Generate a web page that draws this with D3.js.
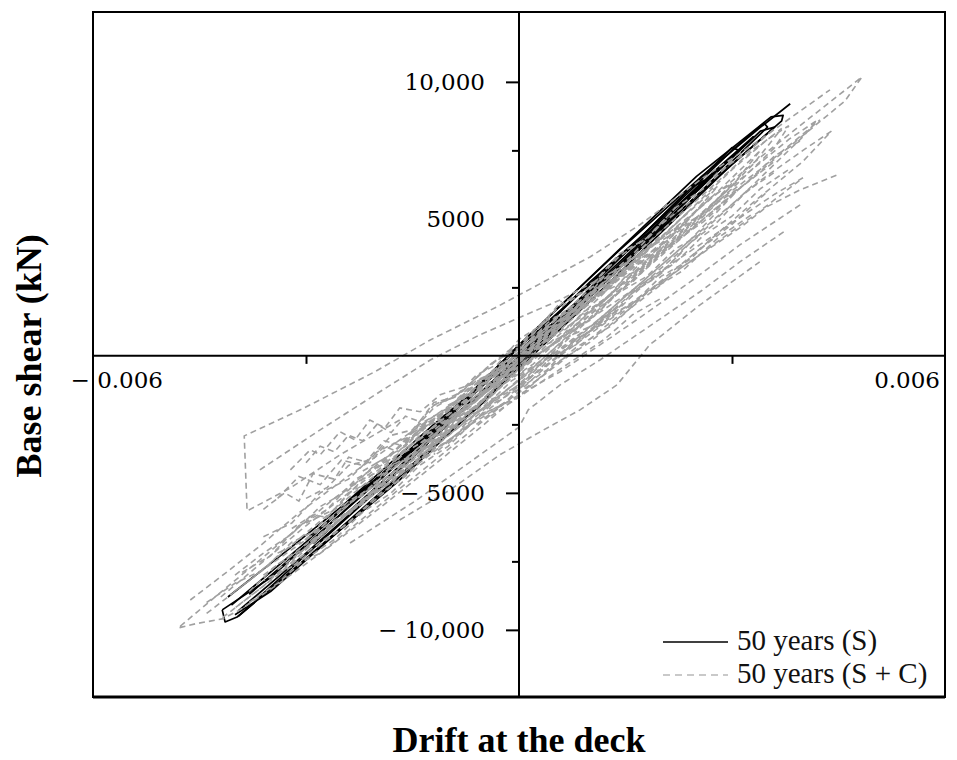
<!DOCTYPE html>
<html>
<head>
<meta charset="UTF-8">
<style>
  body { margin: 0; background: #fff; }
  svg { display: block; }
</style>
</head>
<body>
<svg></svg>
<script src="https://d3js.org/d3.v7.min.js"></script>
<script>

let width = 957,
    height = 760;

// axis ticks and labels
const yTicks = [-10000, -5000, 5000, 10000];
const yTickLabels = ["\u2212 10,000", "\u2212 5000", "5000", "10,000"];
const yMinorTicks = [-7500, -2500, 2500, 7500];
const xTicks = [-0.003, 0.003];
const xEndTicks = [-0.006, 0.006];
const xTickLabels = ["\u2212 0.006", "0.006"];
const legendLabels = ["50 years (S)", "50 years (S + C)"];

// 50 years (S) : [drift, base shear kN]
const s_1 = [[-0.00410,-8800],[-0.00322,-7010],[-0.00224,-4960],[-0.00139,-3180],[-0.00070,-1420],[0,400],[0.00058,1820],[0.00142,3870],[0.00255,6500],[0.00339,8320],[0.00382,9200]];
const s_2 = [[-0.00418,-9270],[-0.00414,-9710],[-0.00397,-9530],[-0.00280,-6970],[-0.00168,-4530],[-0.00069,-2120],[0,-290],[0.00142,3290],[0.00255,5950],[0.00370,8580],[0.00372,8780],[0.00355,8720],[0.00250,6550],[0.00140,3850],[0,380],[-0.00070,-1400],[-0.00150,-3350],[-0.00250,-5750],[-0.00350,-8100],[-0.00418,-9270]];
const s_3 = [[-0.00405,-9100],[-0.00300,-6800],[-0.00200,-4450],[-0.00100,-2200],[0,150],[0.00100,2700],[0.00200,5000],[0.00300,7500],[0.00345,8500],[0.00350,8350],[0.00300,7100],[0.00200,4600],[0.00100,2200],[0,-100],[-0.00100,-2500],[-0.00200,-4900],[-0.00300,-7200],[-0.00395,-9300]];
const s_4 = [[-0.00300,-6700],[-0.00150,-3400],[0,300],[0.00150,3800],[0.00300,7600],[0.00310,7500],[0.00150,3500],[0,-50],[-0.00150,-3600],[-0.00290,-6850]];
const s_5 = [[-0.00395,-9500],[-0.00300,-7400],[-0.00200,-5100],[-0.00100,-2800],[0,-450],[0.00100,2000],[0.00200,4500],[0.00300,7000],[0.00360,8350],[0.00340,8200],[0.00250,6000],[0.00150,3400],[0.00050,900],[-0.00050,-1700],[-0.00150,-4000],[-0.00250,-6300],[-0.00350,-8600],[-0.00400,-9450]];
const s_6 = [[-0.00380,-8700],[-0.00280,-6450],[-0.00180,-4150],[-0.00080,-1800],[0,150],[0.00080,2150],[0.00180,4450],[0.00280,6850],[0.00330,8000],[0.00320,7750],[0.00220,5350],[0.00120,2900],[0.00020,500],[-0.00080,-2000],[-0.00180,-4450],[-0.00280,-6800],[-0.00370,-8900]];
const s_7 = [[-0.00240,-5500],[-0.00120,-2800],[0,-200],[0.00120,3000],[0.00240,6100],[0.00260,6400],[0.00140,3300],[0,100],[-0.00120,-2500],[-0.00250,-5500]];

// 50 years (S + C) : [drift, base shear kN]
const g_1 = [[-0.00083,-1610],[0,-150],[0.00086,1390],[0.00170,3070],[0.00255,4890],[0.00325,6420],[0.00396,7960],[0.00459,9300],[0.00483,10180],[0.00424,8980],[0.00339,7230],[0.00255,5400],[0.00142,3070],[0.00058,1310],[0,220]];
const g_2 = [[0,-690],[0.00058,220],[0.00114,1130],[0.00184,2410],[0.00255,3690],[0.00311,4670],[0.00349,5440],[0.00396,6060],[0.00449,6610]];
const g_3 = [[-0.00238,-6830],[-0.00144,-5260],[-0.00051,-3540],[0,-2600],[0.00013,-1970],[0.00058,-1060],[0.00114,-150],[0.00170,840],[0.00255,2340],[0.00311,3430],[0.00377,4600]];
const g_4 = [[-0.00168,-5990],[-0.00097,-4890],[-0.00027,-3610],[0.00030,-2770],[0.00086,-1970],[0.00138,-1060],[0.00184,400],[0.00255,1860],[0.00339,3430]];
const g_5 = [[-0.00168,-2340],[-0.00252,-3610],[-0.00322,-4820],[-0.00383,-5660],[-0.00387,-2920],[-0.00308,-1970],[-0.00203,-580],[-0.00125,580],[-0.00031,1790],[0.00100,3610],[0.00170,4780],[0.00255,6420],[0.00339,7880],[0.00438,9710]];
const g_6 = [[0,-1420],[-0.00055,-2630],[-0.00125,-4090],[-0.00196,-5550],[-0.00266,-6940],[-0.00337,-8290],[-0.00393,-9270],[-0.00418,-9600],[-0.00456,-9780],[-0.00480,-9930],[-0.00453,-9340],[-0.00411,-8430],[-0.00365,-7450],[-0.00308,-6210],[-0.00238,-4750],[-0.00168,-3320],[-0.00097,-1970],[0,-370]];
const g_7 = [[-0.00463,-8910],[-0.00411,-7880],[-0.00365,-6940],[-0.00308,-5690],[-0.00238,-4340],[-0.00168,-3070],[-0.00097,-1790],[-0.00027,-580],[0.00030,580],[0.00114,2230],[0.00227,4600],[0.00339,6790],[0.00424,8610]];
const g_8 = [[-0.00322,-4160],[-0.00294,-3430],[-0.00280,-3610],[-0.00252,-2770],[-0.00231,-3070],[-0.00210,-2340],[-0.00189,-2630],[-0.00168,-1900],[-0.00139,-2040],[-0.00111,-1420],[-0.00069,-1060],[0,-150]];
const g_9 = [[-0.00365,-4160],[-0.00280,-2700],[-0.00196,-1310],[-0.00125,-150],[-0.00055,770],[0,1390],[0.00058,2040],[0.00142,3210],[0.00227,4780]];
const g_10 = [[0.00396,5510],[0.00311,4050],[0.00241,2700],[0.00170,1390],[0.00114,400],[0.00058,-580],[0,-1420],[-0.00069,-2520],[-0.00139,-3800],[-0.00210,-5150],[-0.00280,-6350],[-0.00351,-7630],[-0.00407,-8720]];
const g_11 = [[-0.0034,-5200],[-0.0031,-4400],[-0.0028,-4700],[-0.0025,-3800],[-0.0022,-4000],[-0.0019,-3100],[-0.0016,-3300],[-0.0013,-2400],[-0.0010,-2500],[-0.0007,-1600],[-0.0004,-1200],[0,-300]];
const d_1 = [[-0.0030,-6700],[-0.0022,-5000],[-0.0012,-2900],[-0.0004,-1100],[0.0004,700],[0.0012,2400],[0.0020,4100],[0.0028,6000],[0.0034,7500],[0.0030,6200],[0.0022,4300],[0.0014,2500],[0.0006,700],[-0.0002,-1000],[-0.0010,-2700],[-0.0020,-4900],[-0.0030,-6900]];
const d_2 = [[-0.0036,-8000],[-0.0028,-6500],[-0.0018,-4600],[-0.0010,-2800],[-0.0002,-900],[0.0006,700],[0.0014,2300],[0.0022,4100],[0.0030,5900],[0.0036,7100],[0.0031,6100],[0.0024,4200],[0.0016,2400],[0.0008,600],[0,-1300],[-0.0008,-3000],[-0.0018,-5100],[-0.0028,-7200],[-0.0036,-8200]];
const d_3 = [[-0.0025,-5600],[-0.0018,-4300],[-0.0010,-2600],[-0.0002,-700],[0.0006,1100],[0.0014,2900],[0.0022,4800],[0.0028,6200],[0.0024,5000],[0.0016,3000],[0.0008,1000],[0,-900],[-0.0008,-2500],[-0.0016,-4200],[-0.0025,-5900]];
const d_4 = [[-0.0020,-4100],[-0.0012,-2700],[-0.0004,-1200],[0.0004,300],[0.0012,1700],[0.0020,3100],[0.0028,4500],[0.0036,5900],[0.0040,6500],[0.0034,5300],[0.0026,3800],[0.0018,2300],[0.0010,800],[0.0002,-700],[-0.0006,-2100],[-0.0014,-3500],[-0.0020,-4400]];
const d_5 = [[-0.0042,-8800],[-0.0036,-7500],[-0.0030,-6200],[-0.0024,-5000],[-0.0018,-3800],[-0.0012,-2600],[-0.0006,-1300],[0,100],[0.0006,1500],[0.0012,2900],[0.0008,1700],[0.0002,300],[-0.0004,-1200],[-0.0010,-2500],[-0.0016,-3900],[-0.0022,-5300],[-0.0028,-6600],[-0.0034,-8000],[-0.0040,-9200]];
const d_6 = [[-0.0032,-6300],[-0.0029,-5800],[-0.0027,-5900],[-0.0024,-5000],[-0.0021,-4600],[-0.0018,-4700],[-0.0015,-3700],[-0.0012,-3200],[-0.0009,-2400],[-0.0006,-1900],[-0.0003,-1000],[0,-600],[0.0003,300],[0.0006,700],[0.0009,1600],[0.0012,2000],[0.0015,2900],[0.0018,3300],[0.0021,4200]];
const d_7 = [[0,-500],[0.0008,1300],[0.0016,3300],[0.0024,5300],[0.0030,6800],[0.0035,7900],[0.0038,8400],[0.0036,7600],[0.0030,6100],[0.0022,4200],[0.0014,2300],[0.0006,400],[-0.0002,-1500]];
const d_8 = [[-0.0010,-2400],[-0.0004,-1000],[0.0002,400],[0.0010,2200],[0.0018,4100],[0.0026,5900],[0.0032,7300],[0.0037,8300],[0.0033,7000],[0.0026,5200],[0.0018,3300],[0.0010,1400],[0.0002,-400],[-0.0006,-2200],[-0.0012,-3600]];
const d_9 = [[0.0010,1600],[0.0020,3900],[0.0030,6200],[0.0038,7900],[0.0042,8600],[0.0040,8000],[0.0032,6000],[0.0024,4100],[0.0016,2300],[0.0008,500]];
const d_10 = [[-0.0012,-2900],[-0.0006,-1500],[0,-100],[0.0006,1300],[0.0012,2700],[0.0008,1600],[0.0002,100],[-0.0004,-1300],[-0.0010,-2800],[-0.0014,-3500]];
const d_11 = [[-0.0008,-1600],[-0.0002,-300],[0.0004,1000],[0.0010,2100],[0.0016,3400],[0.0012,2400],[0.0006,1000],[0,-400],[-0.0006,-1800],[-0.0009,-2400]];
const d_12 = [[-0.0044,-9400],[-0.0038,-8200],[-0.0032,-6900],[-0.0026,-5600],[-0.0020,-4300],[-0.0014,-3000],[-0.0008,-1700],[-0.0002,-400],[0.0004,900],[0,-200],[-0.0006,-1600],[-0.0012,-2900],[-0.0018,-4300],[-0.0024,-5700],[-0.0030,-7000],[-0.0036,-8400],[-0.0042,-9600]];
const d_13 = [[-0.0034,-7800],[-0.0028,-6600],[-0.0022,-5300],[-0.0016,-4000],[-0.0010,-2900],[-0.0004,-1700],[0.0002,-500],[0.0008,700],[0.0014,1800],[0.0010,900],[0.0004,-300],[-0.0002,-1500],[-0.0008,-2700],[-0.0014,-3900],[-0.0020,-5200],[-0.0026,-6500],[-0.0032,-7700]];
const d_14 = [[0.0004,-200],[0.0012,1500],[0.0020,3300],[0.0028,5100],[0.0034,6400],[0.0040,7500],[0.0044,8200],[0.0040,7100],[0.0033,5600],[0.0025,3800],[0.0017,2100],[0.0009,400],[0.0001,-1200]];
const d_15 = [[-0.0016,-3100],[-0.0010,-1900],[-0.0004,-600],[0.0002,700],[0.0008,1900],[0.0014,3100],[0.0020,4400],[0.0016,3300],[0.0010,2000],[0.0004,700],[-0.0002,-700],[-0.0008,-2000],[-0.0014,-3200]];
const e_1 = [[-0.0020,-4600],[-0.0016,-3500],[-0.0012,-2900],[-0.0008,-1800],[-0.0004,-1100],[0,-100],[0.0004,600],[0.0008,1700],[0.0012,2300],[0.0016,3400],[0.0020,4000]];
const e_2 = [[-0.0022,-4200],[-0.0018,-3600],[-0.0014,-2500],[-0.0010,-1900],[-0.0006,-900],[-0.0002,-400],[0.0002,600],[0.0006,1100],[0.0010,2100],[0.0014,2600],[0.0018,3600],[0.0022,4100]];
const e_3 = [[-0.0018,-4500],[-0.0014,-3700],[-0.0010,-2700],[-0.0006,-2000],[-0.0002,-1000],[0.0002,-300],[0.0006,700],[0.0010,1300],[0.0014,2300],[0.0018,2900],[0.0022,3900],[0.0026,4500]];
const e_4 = [[-0.0015,-2800],[-0.0011,-2200],[-0.0007,-1200],[-0.0003,-600],[0.0001,400],[0.0005,1000],[0.0009,2000],[0.0013,2600],[0.0017,3700]];
const e_5 = [[-0.0013,-3500],[-0.0009,-2500],[-0.0005,-1900],[-0.0001,-900],[0.0003,-300],[0.0007,700],[0.0011,1200],[0.0015,2200],[0.0019,2800],[0.0023,3800]];
const e_6 = [[-0.0026,-5200],[-0.0021,-4300],[-0.0016,-3100],[-0.0011,-2200],[-0.0006,-1000],[-0.0001,-100],[0.0004,1100],[0.0009,2000],[0.0014,3200],[0.0019,4100],[0.0024,5300]];
const e_7 = [[-0.0024,-5800],[-0.0019,-4500],[-0.0014,-3600],[-0.0009,-2300],[-0.0004,-1500],[0.0001,-200],[0.0006,600],[0.0011,1900],[0.0016,2700],[0.0021,4000],[0.0026,4900],[0.0031,6100]];
const e_8 = [[-0.0010,-1800],[-0.0006,-1300],[-0.0002,-200],[0.0002,300],[0.0006,1400],[0.0010,1900],[0.0014,3000],[0.0018,3500],[0.0022,4600],[0.0026,5200],[0.0030,6300]];
const e_9 = [[-0.0008,-2600],[-0.0004,-1600],[0,-1100],[0.0004,-100],[0.0008,400],[0.0012,1400],[0.0016,1900],[0.0020,2900],[0.0024,3500],[0.0028,4500],[0.0032,5200]];
const e_10 = [[-0.0030,-6100],[-0.0026,-5600],[-0.0022,-4500],[-0.0018,-4000],[-0.0014,-2900],[-0.0010,-2300],[-0.0006,-1300],[-0.0002,-600]];
const e_11 = [[-0.0034,-7200],[-0.0030,-6700],[-0.0026,-5600],[-0.0022,-5100],[-0.0018,-4000],[-0.0014,-3500],[-0.0010,-2400],[-0.0006,-1900],[-0.0002,-800]];
const e_12 = [[-0.0038,-8600],[-0.0034,-7600],[-0.0030,-7000],[-0.0026,-6000],[-0.0022,-5400],[-0.0018,-4400],[-0.0014,-3800],[-0.0010,-2800]];
const e_13 = [[-0.0039,-7900],[-0.0035,-7300],[-0.0031,-6200],[-0.0027,-5600],[-0.0023,-4500],[-0.0019,-3900],[-0.0015,-2800],[-0.0011,-2300]];
const e_14 = [[0.0006,1800],[0.0010,2500],[0.0014,3600],[0.0018,4300],[0.0022,5400],[0.0026,6100],[0.0030,7100],[0.0034,7700]];
const e_15 = [[0.0010,900],[0.0014,1700],[0.0018,2700],[0.0022,3400],[0.0026,4400],[0.0030,5100],[0.0034,6100],[0.0038,6800]];
const e_16 = [[-0.0006,-800],[-0.0002,100],[0.0002,800],[0.0006,1900],[0.0010,2500],[0.0014,3700],[0.0018,4300],[0.0022,5400]];
const e_17 = [[-0.0012,-1800],[-0.0008,-1300],[-0.0004,-300],[0,300],[0.0004,1300],[0.0008,1700]];
const e_18 = [[-0.0004,-2200],[0,-1500],[0.0004,-800],[0.0008,-100],[0.0012,600],[0.0016,1500],[0.0020,2100]];
const f_1 = [[-0.0010,-3200],[-0.0005,-2100],[0,-1500],[0.0005,-300],[0.0010,500],[0.0015,1600],[0.0020,2600],[0.0025,3800],[0.0030,4800],[0.0035,6000]];
const f_2 = [[-0.0006,-2500],[-0.0002,-1700],[0.0003,-800],[0.0008,300],[0.0013,1100],[0.0018,2300],[0.0023,3100],[0.0028,4300],[0.0033,5200]];
const f_3 = [[0,-1200],[0.0004,-500],[0.0008,600],[0.0012,1200],[0.0016,2300],[0.0020,3000],[0.0024,4100],[0.0028,4900],[0.0032,6000],[0.0036,6700]];
const f_4 = [[-0.0014,-2600],[-0.0010,-2000],[-0.0006,-1000],[-0.0002,-400],[0.0002,600],[0.0006,1200],[0.0010,2300],[0.0014,2900],[0.0018,3900],[0.0022,4500],[0.0026,5600],[0.0030,6300]];
const f_5 = [[-0.0036,-6600],[-0.0032,-6100],[-0.0028,-5000],[-0.0024,-4500],[-0.0020,-3500],[-0.0016,-3000],[-0.0012,-1900],[-0.0008,-1300],[-0.0004,-300],[0,400],[0.0004,1400]];
const f_6 = [[-0.0040,-8000],[-0.0036,-7200],[-0.0032,-6500],[-0.0028,-5500],[-0.0024,-4900],[-0.0020,-3900],[-0.0016,-3300],[-0.0012,-2300],[-0.0008,-1600],[-0.0004,-600],[0,100],[0.0004,1200],[0.0008,1900]];
const f_7 = [[-0.0030,-5200],[-0.0027,-4800],[-0.0024,-4000],[-0.0021,-3800],[-0.0018,-2900],[-0.0015,-2700],[-0.0012,-1800],[-0.0009,-1500],[-0.0006,-700],[-0.0003,-300],[0,600],[0.0003,1100],[0.0006,2000]];
const f_8 = [[-0.0038,-9000],[-0.0034,-8300],[-0.0030,-7400],[-0.0026,-6700],[-0.0022,-5700],[-0.0018,-5000],[-0.0014,-4000],[-0.0010,-3300],[-0.0006,-2300],[-0.0002,-1700],[0.0002,-700]];
const f_9 = [[-0.0032,-7600],[-0.0028,-6800],[-0.0024,-6100],[-0.0020,-5100],[-0.0016,-4400],[-0.0012,-3400],[-0.0008,-2800],[-0.0004,-1800],[0,-1200],[0.0004,-200]];
const f_10 = [[-0.0044,-9000],[-0.0040,-8300],[-0.0036,-7800],[-0.0032,-6800],[-0.0028,-6300],[-0.0024,-5300],[-0.0020,-4700]];
const f_11 = [[0.0016,2900],[0.0020,3800],[0.0024,4600],[0.0028,5600],[0.0032,6300],[0.0036,7300],[0.0040,7900]];
const f_12 = [[0.0012,2800],[0.0016,3700],[0.0020,4800],[0.0024,5600],[0.0028,6700],[0.0032,7400],[0.0036,8300]];
const h_1 = [[-0.0030,-3900],[-0.0028,-3300],[-0.0026,-3500],[-0.0024,-2900],[-0.0022,-3100],[-0.0020,-2500],[-0.0018,-2800],[-0.0016,-2200],[-0.0014,-2400],[-0.0012,-1700],[-0.0009,-1500],[-0.0006,-800]];
const h_2 = [[-0.0036,-5600],[-0.0033,-5000],[-0.0031,-5300],[-0.0029,-4300],[-0.0026,-4500],[-0.0024,-3700],[-0.0021,-3900],[-0.0019,-3300],[-0.0017,-3500],[-0.0014,-2700],[-0.0011,-2900],[-0.0008,-2000]];

const seriesS = [s_1, s_2, s_3, s_4, s_5, s_6, s_7];
const seriesSC = [g_1, g_2, g_3, g_4, g_5, g_6, g_7, g_8, g_9, g_10, g_11,
                  d_1, d_2, d_3, d_4, d_5, d_6, d_7, d_8, d_9, d_10, d_11, d_12, d_13, d_14, d_15,
                  e_1, e_2, e_3, e_4, e_5, e_6, e_7, e_8, e_9, e_10, e_11, e_12, e_13, e_14, e_15, e_16, e_17, e_18,
                  f_1, f_2, f_3, f_4, f_5, f_6, f_7, f_8, f_9, f_10, f_11, f_12, h_1, h_2];

let svg = d3.select("svg")
    .attr("width", width)
    .attr("height", height);

let x = d3.scaleLinear().domain([-0.006, 0.006]).range([93, 945]);
let y = d3.scaleLinear().domain([-12450, 12550]).range([697, 12]);

let line = d3.line()
    .x(d => x(d[0]))
    .y(d => y(d[1]));

// black loops first, dashed grey on top
svg.append("g")
  .selectAll("path")
  .data(seriesS)
  .enter()
  .append("path")
    .attr("d", line)
    .attr("fill", "none")
    .attr("stroke", "#000")
    .attr("stroke-width", 1.7)
    .attr("stroke-linejoin", "round");

svg.append("g")
  .selectAll("path")
  .data(seriesSC)
  .enter()
  .append("path")
    .attr("d", line)
    .attr("fill", "none")
    .attr("stroke", "#a0a0a0")
    .attr("stroke-width", 1.6)
    .attr("stroke-dasharray", "6,4");

// frame
svg.append("rect")
    .attr("x", x(-0.006))
    .attr("y", y(12550))
    .attr("width", x(0.006) - x(-0.006))
    .attr("height", y(-12450) - y(12550))
    .attr("fill", "none")
    .attr("stroke", "#000")
    .attr("stroke-width", 2);
svg.append("line")
    .attr("x1", x(-0.006)).attr("x2", x(0.006))
    .attr("y1", y(-12450)).attr("y2", y(-12450))
    .attr("stroke", "#000").attr("stroke-width", 3);

// axes through the origin
svg.append("line")
    .attr("x1", x(-0.006)).attr("x2", x(0.006))
    .attr("y1", y(0)).attr("y2", y(0))
    .attr("stroke", "#000").attr("stroke-width", 2);
svg.append("line")
    .attr("x1", x(0)).attr("x2", x(0))
    .attr("y1", y(12550)).attr("y2", y(-12450))
    .attr("stroke", "#000").attr("stroke-width", 2);

let yAxis = svg.append("g")
    .attr("transform", "translate(" + x(0) + ",0)")
    .call(d3.axisLeft(y).tickValues(yTicks).tickSize(13).tickPadding(21)
      .tickFormat((d, i) => yTickLabels[i]));
yAxis.select(".domain").remove();
yAxis.selectAll("line").attr("stroke-width", 2);
yAxis.attr("font-family", "'DejaVu Serif', serif").attr("font-size", 23);
yAxis.selectAll("text").attr("fill", "#000");

let yMinor = svg.append("g")
    .attr("transform", "translate(" + x(0) + ",0)")
    .call(d3.axisLeft(y).tickValues(yMinorTicks).tickSize(7).tickFormat(""));
yMinor.select(".domain").remove();
yMinor.selectAll("line").attr("stroke-width", 2);

let xAxis = svg.append("g")
    .attr("transform", "translate(0," + y(0) + ")")
    .call(d3.axisBottom(x).tickValues(xTicks).tickSize(8).tickFormat(""));
xAxis.select(".domain").remove();
xAxis.selectAll("line").attr("stroke-width", 2);

svg.append("g")
  .selectAll("text")
  .data(xEndTicks)
  .enter()
  .append("text")
    .attr("x", (d, i) => i == 0 ? x(d) + 70 : x(d) - 5)
    .attr("y", y(0) + 32)
    .attr("text-anchor", "end")
    .attr("font-family", "'DejaVu Serif', serif")
    .attr("font-size", 23)
    .attr("fill", "#000")
    .text((d, i) => xTickLabels[i]);

// axis titles
svg.append("text")
    .attr("x", x(0))
    .attr("y", 752)
    .attr("text-anchor", "middle")
    .attr("font-family", "'Liberation Serif', 'Times New Roman', serif")
    .attr("font-weight", "bold")
    .attr("font-size", 36)
    .text("Drift at the deck");

svg.append("text")
    .attr("transform", "translate(41," + y(0) + ") rotate(-90)")
    .attr("text-anchor", "middle")
    .attr("font-family", "'Liberation Serif', 'Times New Roman', serif")
    .attr("font-weight", "bold")
    .attr("font-size", 36)
    .text("Base shear (kN)");

// legend
let legend = svg.append("g")
  .selectAll("g")
  .data(legendLabels)
  .enter()
  .append("g")
    .attr("transform", (d, i) => "translate(663," + (642 + i * 33) + ")");

legend.append("line")
    .attr("x1", 0).attr("x2", 65)
    .attr("stroke", (d, i) => i == 0 ? "#000" : "#b8b8b8")
    .attr("stroke-width", 1.4)
    .attr("stroke-dasharray", (d, i) => i == 0 ? null : "7,5");

legend.append("text")
    .attr("x", 74)
    .attr("y", 8)
    .attr("font-family", "'Liberation Serif', 'Times New Roman', serif")
    .attr("font-size", 29)
    .attr("fill", "#111")
    .text(d => d);

</script>
</body>
</html>
